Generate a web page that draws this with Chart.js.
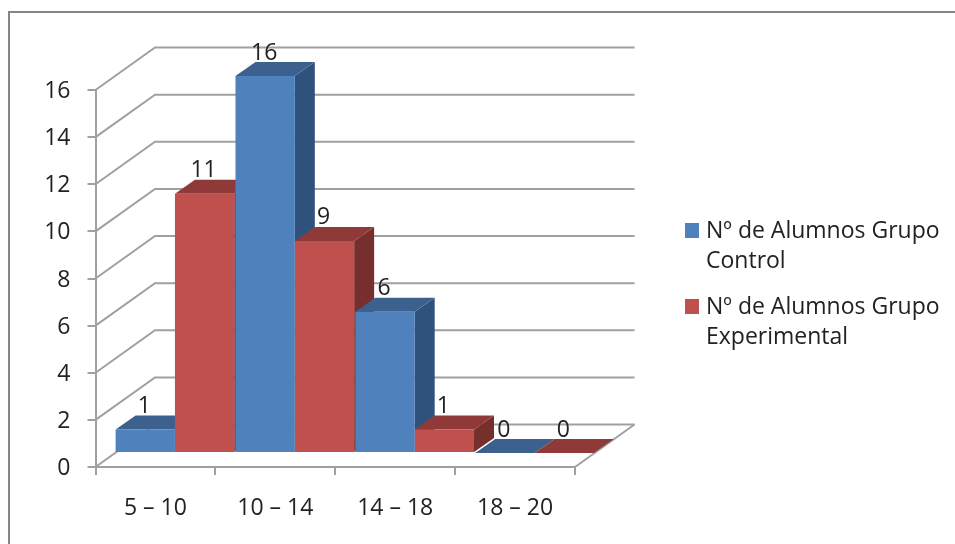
<!DOCTYPE html>
<html>
<head>
<meta charset="utf-8">
<style>
  html, body { margin: 0; padding: 0; background: #fff; }
  canvas { display: block; }
</style>
<script src="https://cdn.jsdelivr.net/npm/chart.js@4"></script>
</head>
<body>
<canvas id="alumnosChart" width="955" height="544"></canvas>
<script>
const categories = ['5 – 10', '10 – 14', '14 – 18', '18 – 20'];
const grupoControl = [1, 16, 6, 0];
const grupoExperimental = [11, 9, 1, 0];
const legendControl = ['Nº de Alumnos Grupo', 'Control'];
const legendExperimental = ['Nº de Alumnos Grupo', 'Experimental'];

const FONT = '"Open Sans", sans-serif';
const FONT_SIZE = 23;
const TEXT = '#222';
const GRID = '#a0a0a0';

// depth of the whole box and of each bar
const WALL = { dx: 59.5, dy: 42.5 };
const BAR = { dx: 20, dy: 14, shiftX: 19.5, shiftY: 14 };

const faces = [
    { front: '#4f81bd', top: '#3c618f', side: '#2f527c' },
    { front: '#c0504d', top: '#8f3a38', side: '#772f2d' }
];

function poly(ctx, pts, fill) {
    ctx.beginPath();
    pts.forEach((p, i) => i ? ctx.lineTo(p[0], p[1]) : ctx.moveTo(p[0], p[1]));
    ctx.closePath();
    ctx.fillStyle = fill;
    ctx.fill();
}

const frame3d = {
    id: 'frame3d',
    beforeDraw(chart) {
        const { ctx, chartArea, scales } = chart;
        ctx.save();

        // frame around the chart, left and top only
        ctx.strokeStyle = '#868686';
        ctx.lineWidth = 2;
        ctx.beginPath();
        ctx.moveTo(9, 544);
        ctx.lineTo(9, 12);
        ctx.lineTo(955, 12);
        ctx.stroke();

        // side wall and back wall lines
        ctx.strokeStyle = GRID;
        ctx.lineWidth = 2;
        scales.y.ticks.forEach(t => {
            const y = scales.y.getPixelForValue(t.value);
            ctx.beginPath();
            ctx.moveTo(chartArea.left, y);
            ctx.lineTo(chartArea.left + WALL.dx, y - WALL.dy);
            ctx.lineTo(chartArea.right + WALL.dx, y - WALL.dy);
            ctx.stroke();
        });

        // right edge of the floor
        ctx.beginPath();
        ctx.moveTo(chartArea.right, chartArea.bottom);
        ctx.lineTo(chartArea.right + WALL.dx, chartArea.bottom - WALL.dy);
        ctx.stroke();
        ctx.restore();
    },
    beforeDatasetsDraw(chart) {
        const ctx = chart.ctx;
        ctx.save();
        ctx.translate(BAR.shiftX, -BAR.shiftY);

        // top and side faces left to right, library draws the fronts over them
        categories.forEach((c, i) => {
            chart.data.datasets.forEach((ds, d) => {
                const bar = chart.getDatasetMeta(d).data[i];
                const x0 = bar.x - bar.width / 2;
                const x1 = bar.x + bar.width / 2;
                poly(ctx, [[x1, bar.y], [x1 + BAR.dx, bar.y - BAR.dy], [x1 + BAR.dx, bar.base - BAR.dy], [x1, bar.base]], faces[d].side);
                poly(ctx, [[x0, bar.y], [x0 + BAR.dx, bar.y - BAR.dy], [x1 + BAR.dx, bar.y - BAR.dy], [x1, bar.y]], faces[d].top);
            });
        });
    },
    afterDatasetsDraw(chart) {
        const ctx = chart.ctx;
        ctx.restore();

        // value labels
        ctx.save();
        ctx.font = FONT_SIZE + 'px ' + FONT;
        ctx.fillStyle = TEXT;
        ctx.textAlign = 'center';
        ctx.textBaseline = 'middle';
        chart.data.datasets.forEach((ds, d) => {
            chart.getDatasetMeta(d).data.forEach((bar, i) => {
                ctx.fillText(ds.data[i], bar.x + BAR.shiftX - 1, bar.y - BAR.shiftY - 23);
            });
        });
        ctx.restore();
    },
    afterDraw(chart) {
        const ctx = chart.ctx;
        ctx.save();
        ctx.font = FONT_SIZE + 'px ' + FONT;
        ctx.textBaseline = 'middle';
        [[legendControl, 223], [legendExperimental, 299]].forEach((entry, d) => {
            const top = entry[1];
            ctx.fillStyle = faces[d].front;
            ctx.fillRect(685, top, 14, 15);
            ctx.fillStyle = TEXT;
            entry[0].forEach((line, i) => ctx.fillText(line, 706, top + 8 + i * 30));
        });
        ctx.restore();
    }
};

new Chart(document.getElementById('alumnosChart'), {
    type: 'bar',
    data: {
        labels: categories,
        datasets: [
            { label: legendControl.join(' '), data: grupoControl, backgroundColor: faces[0].front },
            { label: legendExperimental.join(' '), data: grupoExperimental, backgroundColor: faces[1].front }
        ]
    },
    options: {
        responsive: false,
        animation: false,
        layout: { padding: { top: 90, right: 380, bottom: 0, left: 0 } },
        plugins: { legend: { display: false }, tooltip: { enabled: false } },
        datasets: { bar: { barPercentage: 1, categoryPercentage: 0.99 } },
        scales: {
            x: {
                afterFit(scale) { scale.height = 77; },
                grid: { drawOnChartArea: false, color: GRID, lineWidth: 2, tickLength: 8 },
                border: { color: GRID, width: 2 },
                ticks: { color: TEXT, padding: 20, maxRotation: 0, font: { family: FONT, size: FONT_SIZE } }
            },
            y: {
                min: 0,
                max: 16,
                afterFit(scale) { scale.width = 95.5; },
                grid: { drawOnChartArea: false, color: GRID, lineWidth: 2, tickLength: 8 },
                border: { color: GRID, width: 2 },
                ticks: { stepSize: 2, color: TEXT, padding: 17, labelOffset: 1.5, font: { family: FONT, size: FONT_SIZE } }
            }
        }
    },
    plugins: [frame3d]
});
</script>
</body>
</html>
